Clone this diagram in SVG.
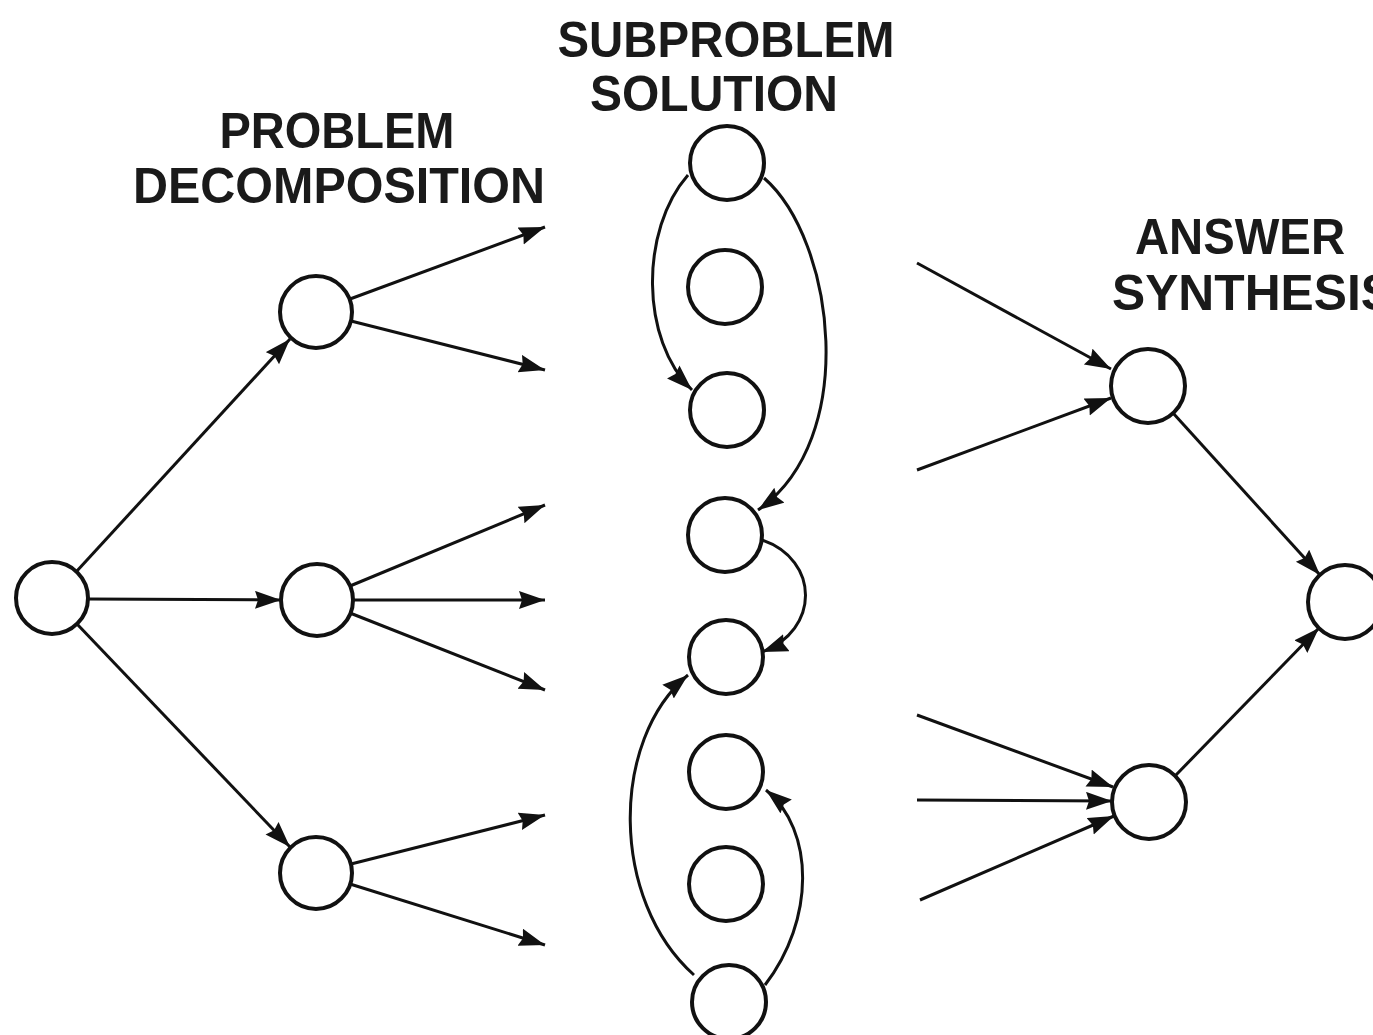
<svg xmlns="http://www.w3.org/2000/svg" width="1373" height="1035" viewBox="0 0 1373 1035">
<style>
.n{fill:#fff;stroke:#111;stroke-width:4}
.e{fill:none;stroke:#111;stroke-width:3;marker-end:url(#ah)}
.t{font-family:"Liberation Sans",Arial,sans-serif;font-size:50px;font-weight:bold;fill:#1a1a1a;text-anchor:middle}
</style>
<defs>
<marker id="ah" markerUnits="userSpaceOnUse" markerWidth="28" markerHeight="20" refX="26" refY="9" orient="auto">
<path d="M0,0 L26,9 L0,18 L3,9 z" fill="#111"/>
</marker>
</defs>
<rect width="1373" height="1035" fill="#fff"/>
<g id="labels">
<text class="t" x="337" y="148" textLength="235" lengthAdjust="spacingAndGlyphs">PROBLEM</text>
<text class="t" x="339" y="203" textLength="412" lengthAdjust="spacingAndGlyphs">DECOMPOSITION</text>
<text class="t" x="726" y="57" textLength="337" lengthAdjust="spacingAndGlyphs">SUBPROBLEM</text>
<text class="t" x="714" y="111" textLength="248" lengthAdjust="spacingAndGlyphs">SOLUTION</text>
<text class="t" x="1240" y="254" textLength="210" lengthAdjust="spacingAndGlyphs">ANSWER</text>
<text class="t" x="1112" y="310" style="text-anchor:start" textLength="282" lengthAdjust="spacingAndGlyphs">SYNTHESIS</text>
</g>
<g id="connectors">
<line class="e" x1="76" y1="572" x2="290" y2="339"/>
<line class="e" x1="88" y1="599" x2="281" y2="600"/>
<line class="e" x1="77" y1="624" x2="290" y2="847"/>
<line class="e" x1="350" y1="299" x2="545" y2="227"/>
<line class="e" x1="351" y1="321" x2="545" y2="370"/>
<line class="e" x1="350" y1="586" x2="545" y2="505"/>
<line class="e" x1="353" y1="600" x2="545" y2="600"/>
<line class="e" x1="350" y1="613" x2="545" y2="690"/>
<line class="e" x1="351" y1="864" x2="545" y2="815"/>
<line class="e" x1="350" y1="884" x2="545" y2="945"/>
<path class="e" d="M688,175 C640,230 640,340 692,390"/>
<path class="e" d="M764,178 C835,240 860,440 758,510"/>
<path class="e" d="M762,540 C820,560 820,630 762,652"/>
<path class="e" d="M694,975 C610,900 610,740 688,675"/>
<path class="e" d="M765,985 C815,920 815,830 766,790"/>
<line class="e" x1="917" y1="263" x2="1111" y2="369"/>
<line class="e" x1="917" y1="470" x2="1111" y2="398"/>
<line class="e" x1="1173" y1="413" x2="1320" y2="575"/>
<line class="e" x1="917" y1="715" x2="1113" y2="787"/>
<line class="e" x1="917" y1="800" x2="1112" y2="801"/>
<line class="e" x1="920" y1="900" x2="1114" y2="816"/>
<line class="e" x1="1175" y1="776" x2="1319" y2="628"/>
</g>
<g id="root"><circle class="n" cx="52" cy="598" r="36"/></g>
<g id="decomp-a"><circle class="n" cx="316" cy="312" r="36"/></g>
<g id="decomp-b"><circle class="n" cx="317" cy="600" r="36"/></g>
<g id="decomp-c"><circle class="n" cx="316" cy="873" r="36"/></g>
<g id="sub-1"><circle class="n" cx="727" cy="163" r="37"/></g>
<g id="sub-2"><circle class="n" cx="725" cy="287" r="37"/></g>
<g id="sub-3"><circle class="n" cx="727" cy="410" r="37"/></g>
<g id="sub-4"><circle class="n" cx="725" cy="535" r="37"/></g>
<g id="sub-5"><circle class="n" cx="726" cy="657" r="37"/></g>
<g id="sub-6"><circle class="n" cx="726" cy="772" r="37"/></g>
<g id="sub-7"><circle class="n" cx="726" cy="884" r="37"/></g>
<g id="sub-8"><circle class="n" cx="729" cy="1002" r="37"/></g>
<g id="synth-1"><circle class="n" cx="1148" cy="386" r="37"/></g>
<g id="synth-2"><circle class="n" cx="1149" cy="802" r="37"/></g>
<g id="answer"><circle class="n" cx="1345" cy="602" r="37"/></g>
</svg>
